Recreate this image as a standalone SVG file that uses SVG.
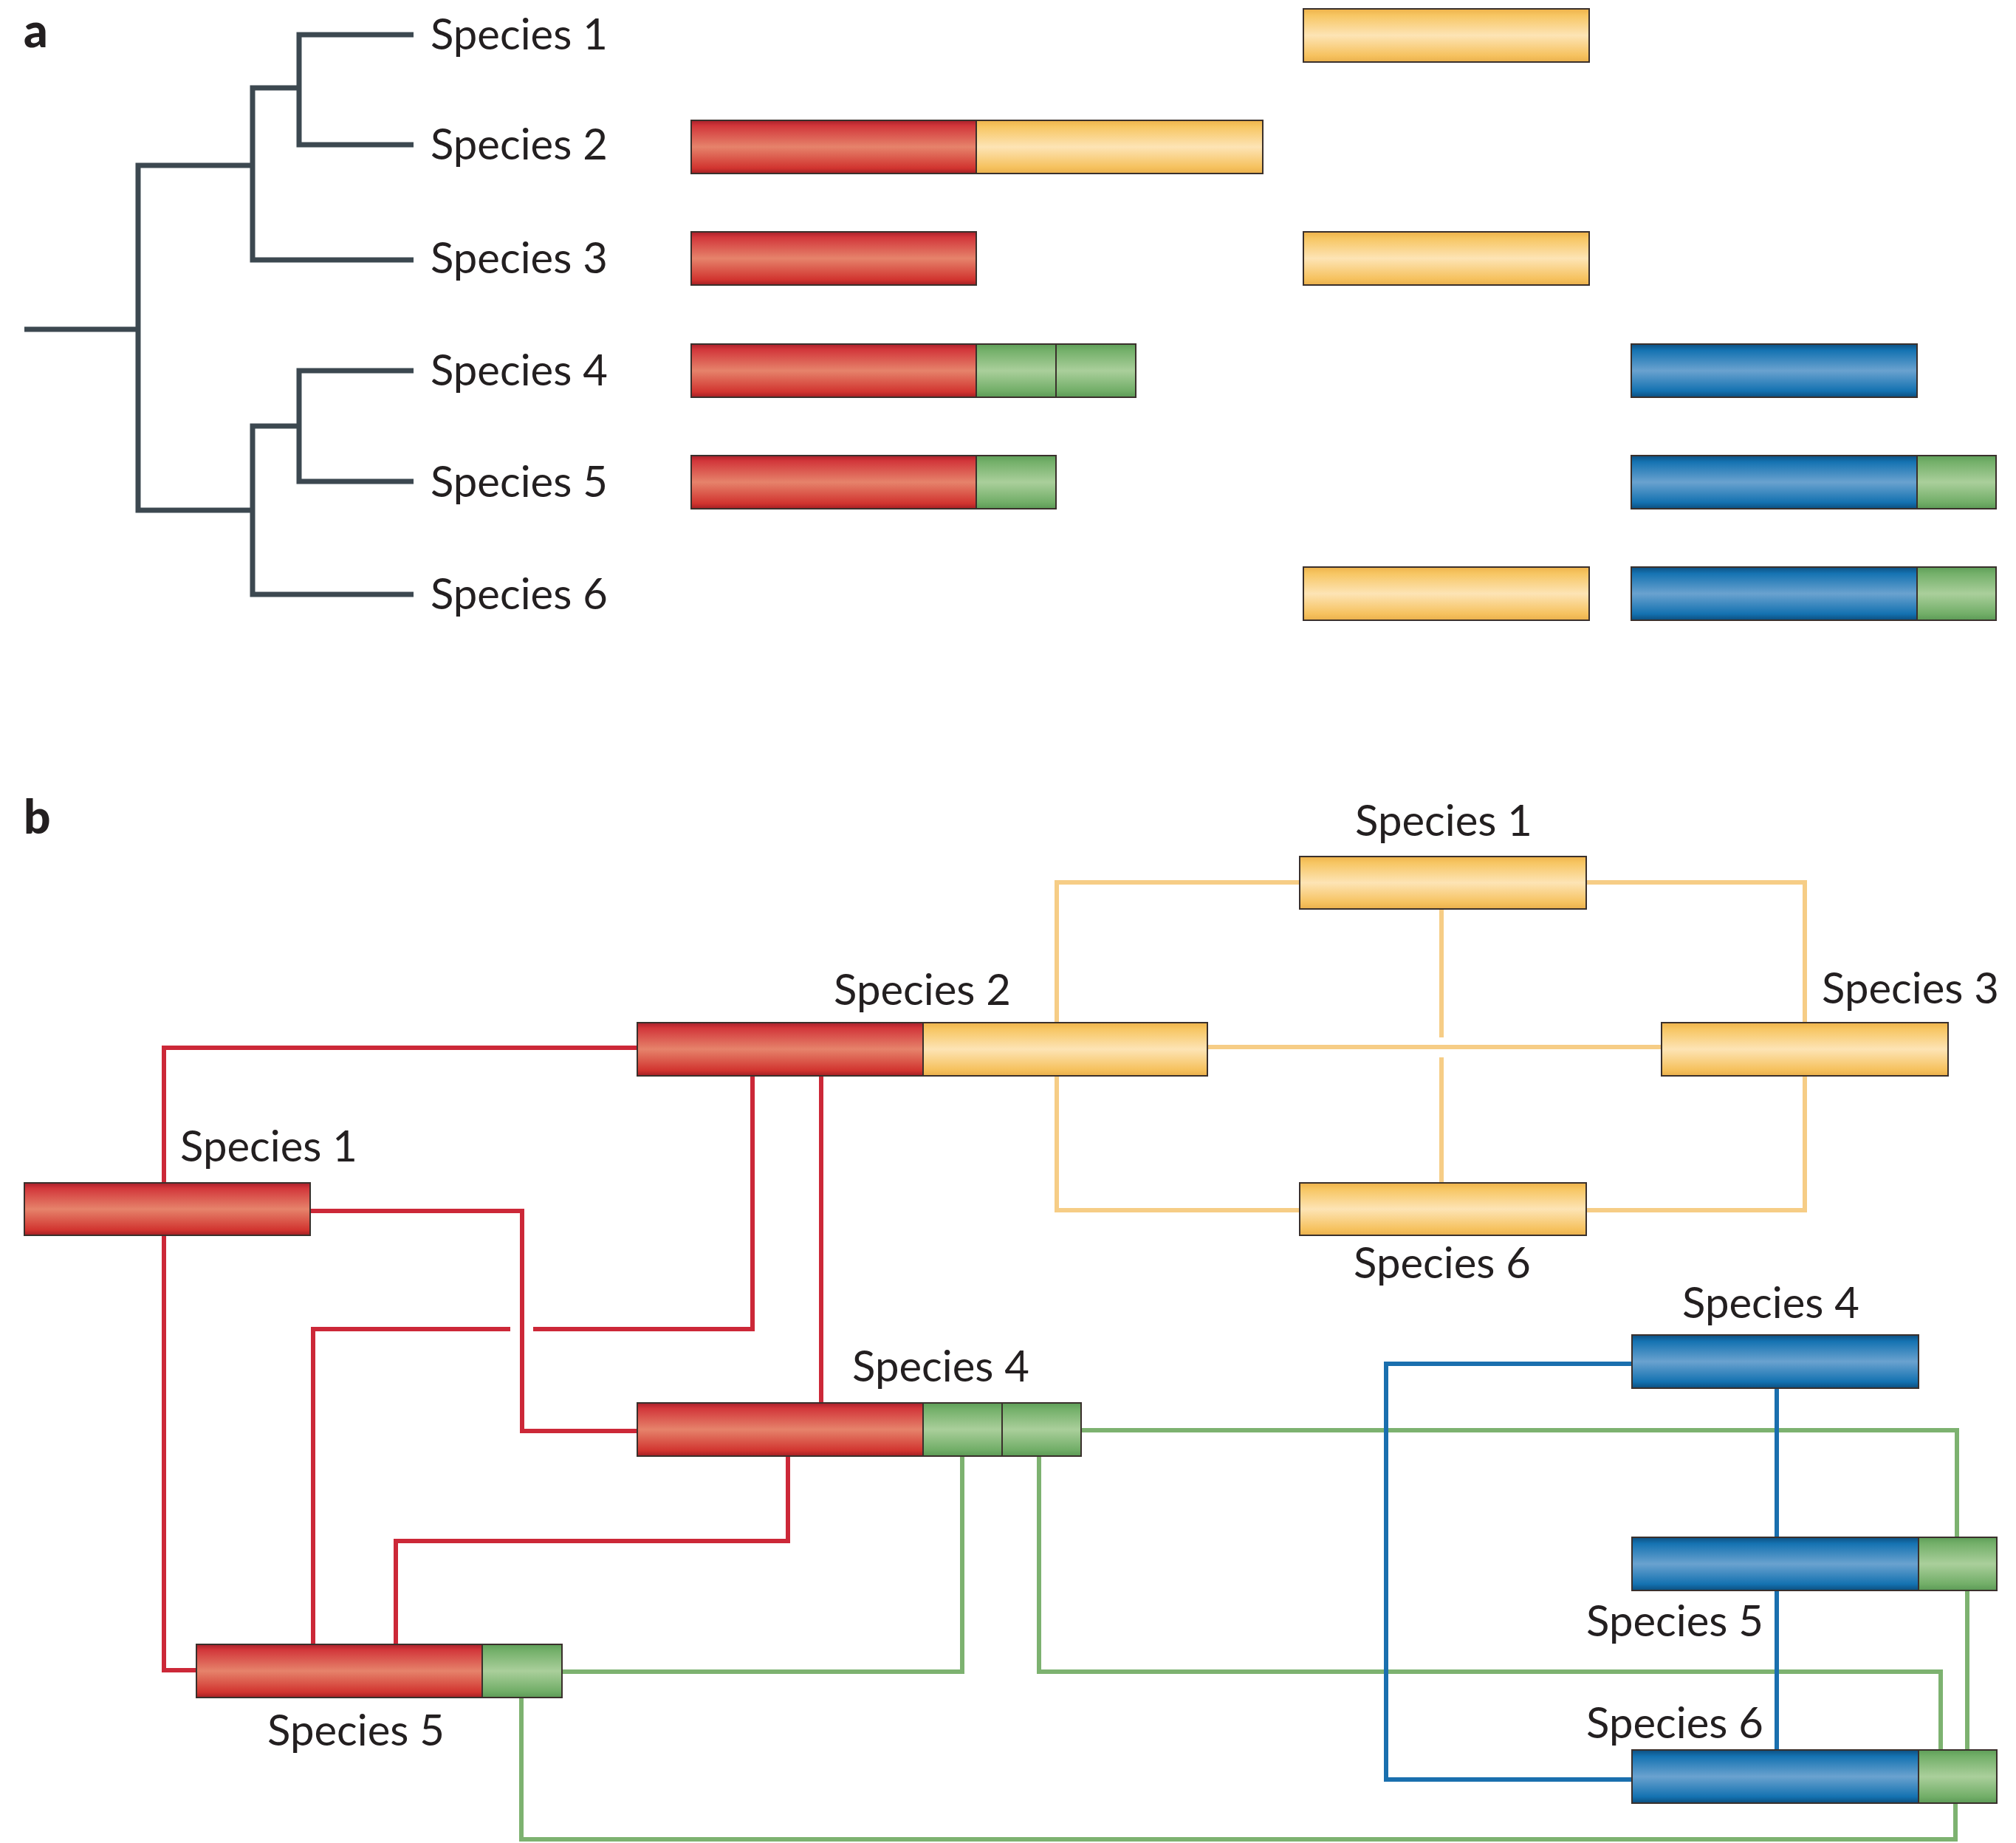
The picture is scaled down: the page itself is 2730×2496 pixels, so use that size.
<svg xmlns="http://www.w3.org/2000/svg" width="2730" height="2496" viewBox="0 0 2730 2496">
  <defs>
    <linearGradient id="gRed" x1="0" y1="0" x2="0" y2="1">
      <stop offset="0" stop-color="#a9202a"/>
      <stop offset="0.1" stop-color="#d2363a"/>
      <stop offset="0.5" stop-color="#e6836b"/>
      <stop offset="0.9" stop-color="#d1342f"/>
      <stop offset="1" stop-color="#a41f24"/>
    </linearGradient>
    <linearGradient id="gYellow" x1="0" y1="0" x2="0" y2="1">
      <stop offset="0" stop-color="#eeb24a"/>
      <stop offset="0.12" stop-color="#f7c663"/>
      <stop offset="0.5" stop-color="#fde4b5"/>
      <stop offset="0.88" stop-color="#f6c25f"/>
      <stop offset="1" stop-color="#eab04c"/>
    </linearGradient>
    <linearGradient id="gBlue" x1="0" y1="0" x2="0" y2="1">
      <stop offset="0" stop-color="#0d4f80"/>
      <stop offset="0.12" stop-color="#1573b2"/>
      <stop offset="0.5" stop-color="#6aa2cf"/>
      <stop offset="0.88" stop-color="#1472b1"/>
      <stop offset="1" stop-color="#0c4e7e"/>
    </linearGradient>
    <linearGradient id="gGreen" x1="0" y1="0" x2="0" y2="1">
      <stop offset="0" stop-color="#5e9e58"/>
      <stop offset="0.12" stop-color="#74b06a"/>
      <stop offset="0.5" stop-color="#aacf9b"/>
      <stop offset="0.88" stop-color="#72ae68"/>
      <stop offset="1" stop-color="#5c9a56"/>
    </linearGradient>
  </defs>
  <style>
    .lbl { font-family: "Lato", "Open Sans", "Liberation Sans", sans-serif; font-size: 58px; fill: #231f20; }
    .mid { text-anchor: middle; }
    .panel { font-family: "Lato", "Liberation Sans", sans-serif; font-size: 64px; font-weight: 900; fill: #231f20; }
    .r { fill: url(#gRed); }
    .y { fill: url(#gYellow); }
    .b { fill: url(#gBlue); }
    .g { fill: url(#gGreen); }
    .seg { stroke: #3a302c; stroke-width: 2; }
    .tree { fill: none; stroke: #3c4850; stroke-width: 7; }
    .ln { fill: none; stroke-width: 6; stroke-linejoin: miter; stroke-linecap: butt; }
    .lr { stroke: #cc2838; }
    .ly { stroke: #f6cd86; }
    .lb { stroke: #1a6fae; }
    .lg { stroke: #7db270; }
  </style>

  <rect width="2730" height="2496" fill="#ffffff"/>

  <!-- Panel a: phylogeny -->
  <text class="panel" x="32" y="64">a</text>
  <g id="tree-a" class="tree">
    <path d="M33,446 H187"/>
    <path d="M342,224 H187 V691 H342"/>
    <path d="M560,47 H405 V196 H560"/>
    <path d="M405,119 H342 V352 H560"/>
    <path d="M560,502 H405 V652 H560"/>
    <path d="M405,577 H342 V805 H560"/>
  </g>

  <!-- Panel a: leaves and domain architectures -->
  <g id="a-species1">
    <text class="lbl" x="583" y="67">Species 1</text>
    <rect class="y seg" x="1765" y="12" width="387" height="72"/>
  </g>
  <g id="a-species2">
    <text class="lbl" x="583" y="216">Species 2</text>
    <rect class="r seg" x="936" y="163" width="386" height="72"/>
    <rect class="y seg" x="1322" y="163" width="388" height="72"/>
  </g>
  <g id="a-species3">
    <text class="lbl" x="583" y="370">Species 3</text>
    <rect class="r seg" x="936" y="314" width="386" height="72"/>
    <rect class="y seg" x="1765" y="314" width="387" height="72"/>
  </g>
  <g id="a-species4">
    <text class="lbl" x="583" y="522">Species 4</text>
    <rect class="r seg" x="936" y="466" width="386" height="72"/>
    <rect class="g seg" x="1322" y="466" width="108" height="72"/>
    <rect class="g seg" x="1430" y="466" width="108" height="72"/>
    <rect class="b seg" x="2209" y="466" width="387" height="72"/>
  </g>
  <g id="a-species5">
    <text class="lbl" x="583" y="673">Species 5</text>
    <rect class="r seg" x="936" y="617" width="386" height="72"/>
    <rect class="g seg" x="1322" y="617" width="108" height="72"/>
    <rect class="b seg" x="2209" y="617" width="387" height="72"/>
    <rect class="g seg" x="2596" y="617" width="107" height="72"/>
  </g>
  <g id="a-species6">
    <text class="lbl" x="583" y="825">Species 6</text>
    <rect class="y seg" x="1765" y="768" width="387" height="72"/>
    <rect class="b seg" x="2209" y="768" width="387" height="72"/>
    <rect class="g seg" x="2596" y="768" width="107" height="72"/>
  </g>

  <!-- Panel b: domain network -->
  <text class="panel" x="32" y="1129">b</text>

  <g id="connectors">
    <!-- red domain links -->
    <g class="ln lr">
      <path d="M863,1419 H222 V2262 H266"/>
      <path d="M420,1640 H707 V1938 H863"/>
      <path d="M1019,1457 V1800 H722"/>
      <path d="M691,1800 H424 V2227"/>
      <path d="M1112,1457 V1900"/>
      <path d="M1067,1972 V2087 H536 V2227"/>
    </g>
    <!-- yellow domain links -->
    <g class="ln ly">
      <path d="M1760,1195 H1431 V1639 H1760"/>
      <path d="M2148,1195 H2444 V1639 H2148"/>
      <path d="M1952,1231 V1405"/>
      <path d="M1952,1432 V1602"/>
      <path d="M1635,1418 H2250"/>
    </g>
    <!-- green domain links -->
    <g class="ln lg">
      <path d="M1464,1937 H2650 V2082"/>
      <path d="M1407,1972 V2264 H2628 V2370"/>
      <path d="M1303,1972 V2264 H761"/>
      <path d="M2664,2154 V2370"/>
      <path d="M2648,2442 V2491 H706 V2299"/>
    </g>
    <!-- blue domain links -->
    <g class="ln lb">
      <path d="M2210,1847 H1877 V2410 H2210"/>
      <path d="M2406,1880 V2082"/>
      <path d="M2406,2154 V2370"/>
    </g>
  </g>

  <g id="b-red-species1">
    <rect class="r seg" x="33" y="1602" width="387" height="71"/>
    <text class="lbl mid" x="364" y="1573">Species 1</text>
  </g>
  <g id="b-species2">
    <rect class="r seg" x="863" y="1385" width="387" height="72"/>
    <rect class="y seg" x="1250" y="1385" width="385" height="72"/>
    <text class="lbl mid" x="1249" y="1361">Species 2</text>
  </g>
  <g id="b-red-species4">
    <rect class="r seg" x="863" y="1900" width="387" height="72"/>
    <rect class="g seg" x="1250" y="1900" width="107" height="72"/>
    <rect class="g seg" x="1357" y="1900" width="107" height="72"/>
    <text class="lbl mid" x="1274" y="1871">Species 4</text>
  </g>
  <g id="b-red-species5">
    <rect class="r seg" x="266" y="2227" width="387" height="72"/>
    <rect class="g seg" x="653" y="2227" width="108" height="72"/>
    <text class="lbl mid" x="482" y="2364">Species 5</text>
  </g>
  <g id="b-yellow-species1">
    <rect class="y seg" x="1760" y="1160" width="388" height="71"/>
    <text class="lbl mid" x="1955" y="1132">Species 1</text>
  </g>
  <g id="b-yellow-species3">
    <rect class="y seg" x="2250" y="1385" width="388" height="72"/>
    <text class="lbl mid" x="2587" y="1359">Species 3</text>
  </g>
  <g id="b-yellow-species6">
    <rect class="y seg" x="1760" y="1602" width="388" height="71"/>
    <text class="lbl mid" x="1953" y="1731">Species 6</text>
  </g>
  <g id="b-blue-species4">
    <rect class="b seg" x="2210" y="1808" width="388" height="72"/>
    <text class="lbl mid" x="2398" y="1785">Species 4</text>
  </g>
  <g id="b-blue-species5">
    <rect class="b seg" x="2210" y="2082" width="388" height="72"/>
    <rect class="g seg" x="2598" y="2082" width="106" height="72"/>
    <text class="lbl mid" x="2268" y="2216">Species 5</text>
  </g>
  <g id="b-blue-species6">
    <rect class="b seg" x="2210" y="2370" width="388" height="72"/>
    <rect class="g seg" x="2598" y="2370" width="106" height="72"/>
    <text class="lbl mid" x="2268" y="2354">Species 6</text>
  </g>
</svg>
